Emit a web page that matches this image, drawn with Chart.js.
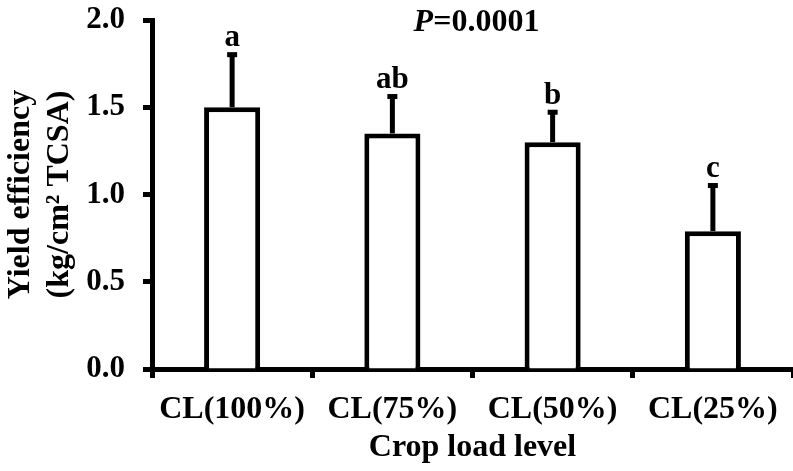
<!DOCTYPE html>
<html>
<head>
<meta charset="utf-8">
<script src="https://cdn.jsdelivr.net/npm/chart.js@4.4.1/dist/chart.umd.min.js"></script>
<style>
  html, body { margin: 0; padding: 0; background: #fff; }
  #wrap { width: 793px; height: 471px; }
</style>
</head>
<body>
<div id="wrap"><canvas id="yieldChart"></canvas></div>
<script>
const CATEGORIES = ['CL(100%)', 'CL(75%)', 'CL(50%)', 'CL(25%)'];
const MEANS = [1.50, 1.35, 1.30, 0.79];
const ERRORS = [0.31, 0.22, 0.18, 0.27];
const LETTERS = ['a', 'ab', 'b', 'c'];
const Y_TICKS = [0, 0.5, 1.0, 1.5, 2.0];

const FONT = '"Liberation Serif", "Times New Roman", serif';

// error bars + significance letters + P value
const errorBars = {
  id: 'errorBars',
  afterDatasetsDraw(chart) {
    const { ctx, scales: { y }, chartArea } = chart;
    const meta = chart.getDatasetMeta(0);
    ctx.save();
    ctx.strokeStyle = '#000';
    ctx.fillStyle = '#000';
    ctx.lineWidth = 5;
    meta.data.forEach((bar, i) => {
      const top = y.getPixelForValue(MEANS[i] + ERRORS[i]);
      ctx.beginPath();
      ctx.moveTo(bar.x, bar.y);
      ctx.lineTo(bar.x, top);
      ctx.stroke();
      ctx.fillRect(bar.x - 5, top - 1, 10, 5);
      ctx.font = `bold 31px ${FONT}`;
      ctx.textAlign = 'center';
      ctx.textBaseline = 'alphabetic';
      ctx.fillText(LETTERS[i], bar.x, top - 7);
    });

    // P value, italic P
    const cx = (chartArea.left + chartArea.right) / 2 + 4;
    ctx.textAlign = 'left';
    ctx.font = `italic bold 32px ${FONT}`;
    const pW = ctx.measureText('P').width;
    ctx.font = `bold 32px ${FONT}`;
    const restW = ctx.measureText('=0.0001').width;
    const x = cx - (pW + restW) / 2;
    ctx.font = `italic bold 32px ${FONT}`;
    ctx.fillText('P', x, 31);
    ctx.font = `bold 32px ${FONT}`;
    ctx.fillText('=0.0001', x + pW, 31);
    ctx.restore();
  }
};

new Chart(document.getElementById('yieldChart'), {
  type: 'bar',
  data: {
    labels: CATEGORIES,
    datasets: [{
      data: MEANS,
      backgroundColor: '#fff',
      borderColor: '#000',
      borderWidth: 5,
      barPercentage: 0.35,
      categoryPercentage: 1.0,
    }],
  },
  options: {
    responsive: true, maintainAspectRatio: false,
    animation: false,
    layout: { padding: { top: 20, right: 0, left: 0, bottom: 0 } },
    plugins: { legend: { display: false }, tooltip: { enabled: false } },
    scales: {
      x: {
        afterFit: (s) => { s.height = 102; s.paddingLeft = 0; s.paddingRight = 0; },
        grid: { drawOnChartArea: false, offset: true, tickLength: 9, tickWidth: 5, tickColor: '#000' },
        border: { display: true, color: '#000', width: 5 },
        ticks: { color: '#000', padding: 13, font: { family: FONT, size: 32, weight: 'bold' } },
        title: {
          display: true, text: 'Crop load level', color: '#000',
          font: { family: FONT, size: 32, weight: 'bold' }, padding: { top: 0 },
        },
      },
      y: {
        min: 0, max: 2.0,
        afterFit: (s) => { s.width = 152; s.paddingTop = 0; s.paddingBottom = 0; },
        afterBuildTicks: (s) => { s.ticks = Y_TICKS.map(v => ({ value: v })); },
        grid: { drawOnChartArea: false, tickLength: 9, tickWidth: 5, tickColor: '#000' },
        border: { display: true, color: '#000', width: 5 },
        ticks: {
          color: '#000', padding: 18,
          font: { family: FONT, size: 31, weight: 'bold' },
          callback: (v) => Number(v).toFixed(1),
        },
        title: {
          display: true, text: ['Yield efficiency', '(kg/cm\u00B2 TCSA)'], color: '#000',
          font: { family: FONT, size: 32, weight: 'bold', lineHeight: 1.2 }, padding: { top: 2, bottom: 0 },
        },
      },
    },
  },
  plugins: [errorBars],
});
</script>
</body>
</html>
